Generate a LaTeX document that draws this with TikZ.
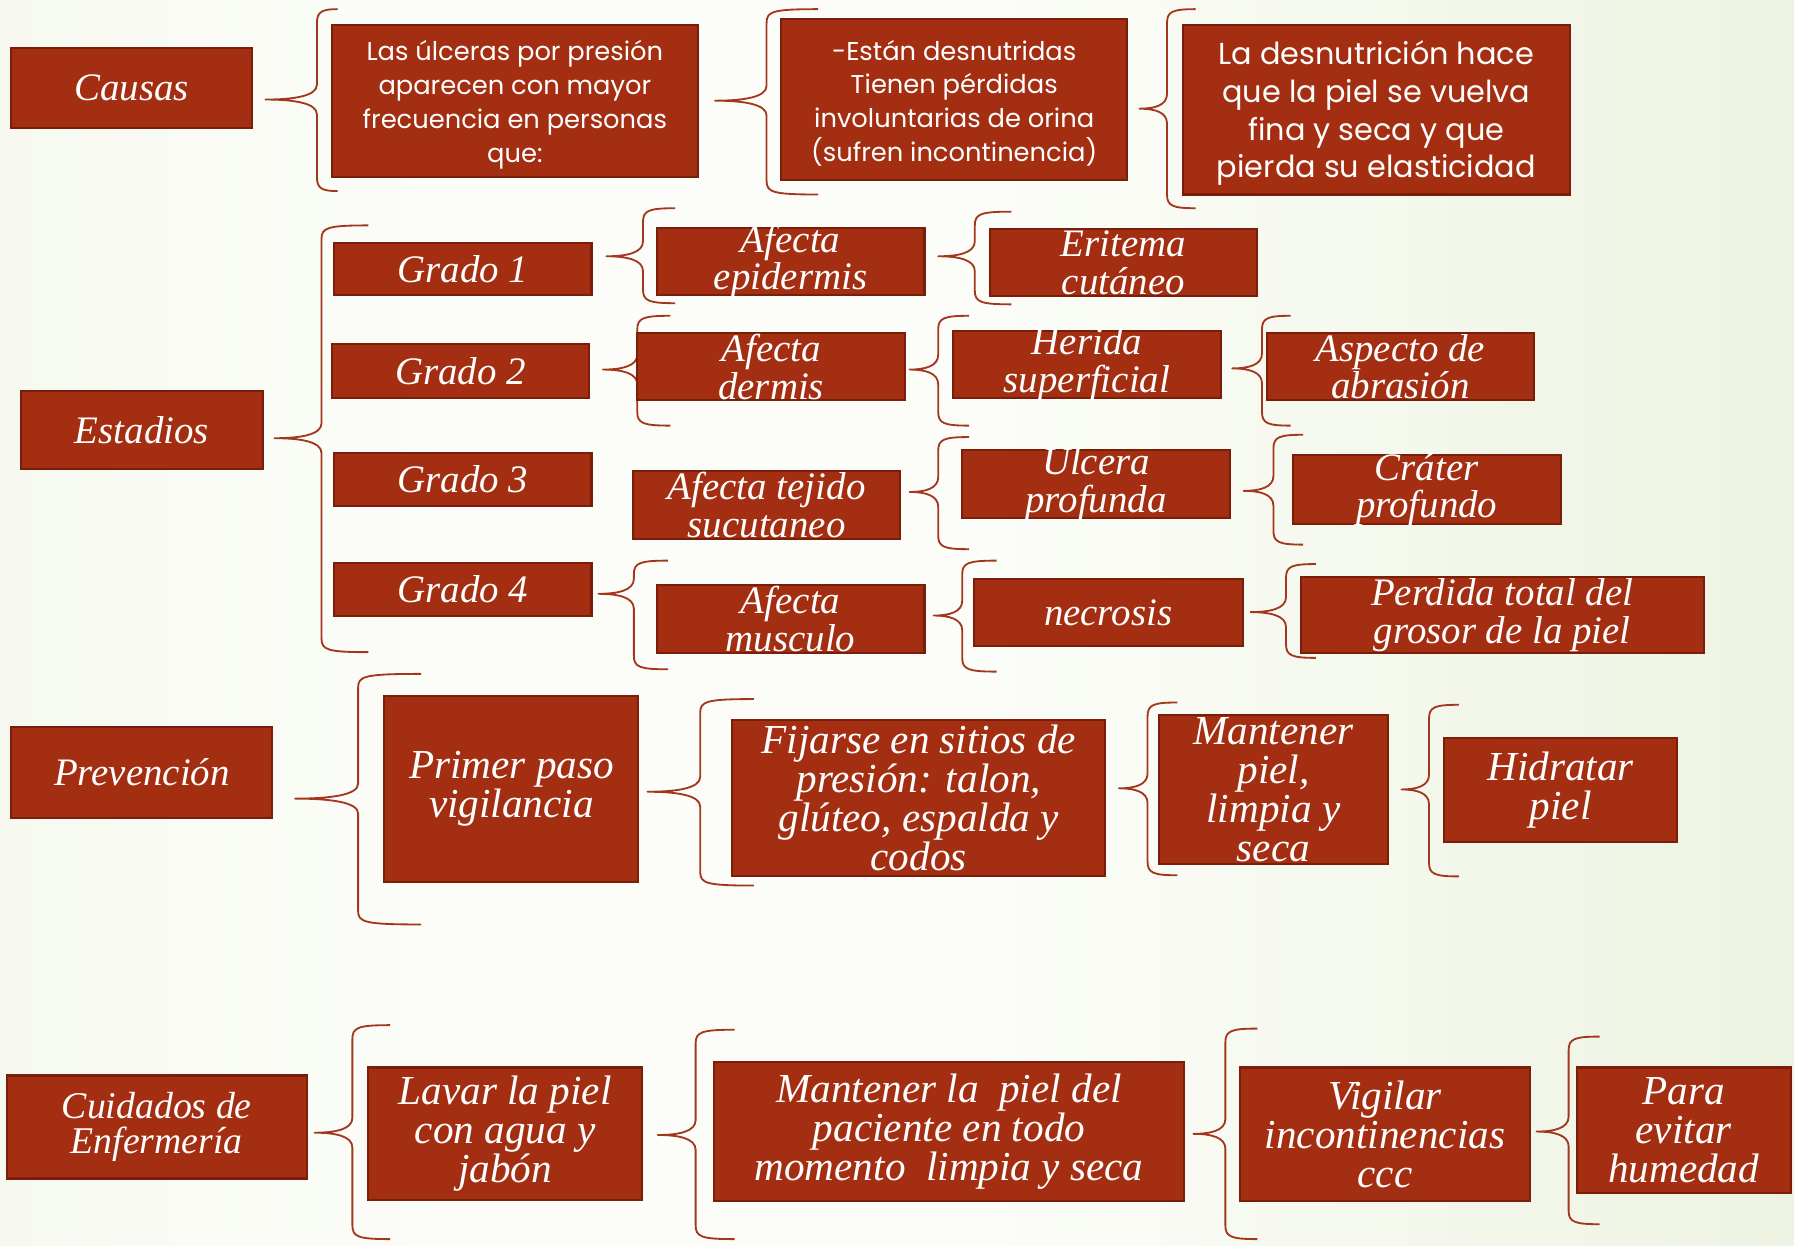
\documentclass[tikz,border=0pt]{standalone}
\usepackage{fontspec}
\setmainfont{Liberation Serif}
\newfontfamily\gothic{Poppins}
\definecolor{boxred}{RGB}{164,46,17}
\definecolor{boxdark}{RGB}{122,30,10}
\definecolor{bracecol}{RGB}{163,55,30}
\definecolor{bgL}{RGB}{236,242,224}
\definecolor{bgM}{RGB}{252,253,249}
\definecolor{bgR}{RGB}{221,232,200}
\pgfdeclarehorizontalshading{bgsh}{100bp}{color(0bp)=(bgL); color(38bp)=(bgM); color(52bp)=(bgM); color(100bp)=(bgR)}
\newcommand\calA{\fontsize{34}{33}\selectfont\itshape}
\newcommand\calB{\fontsize{36}{34}\selectfont\itshape}
\newcommand\calC{\fontsize{33}{30}\selectfont\itshape}
\newcommand\gotA{\gothic\fontsize{22.5}{29.5}\selectfont}
\newcommand\gotB{\gothic\fontsize{26.5}{33}\selectfont}
\tikzset{
  box/.style={draw=boxdark, line width=1.8pt, fill=boxred, rectangle, inner sep=0pt},
  txt/.style={text=white, align=center, inner sep=0pt},
  bracestyle/.style={draw=bracecol, line width=1.6pt, line join=round}
}
% name, x, y, width, height, font, text
\newcommand{\bx}[7]{%
  \node[box, minimum width=#4pt, minimum height=#5pt] (#1) at (#2,#3) {};
  \node[txt, font=#6] (#1-t) at (#1.center) {#7};}
% sans-serif variant, text set a little lower
\newcommand{\bxs}[7]{%
  \node[box, minimum width=#4pt, minimum height=#5pt] (#1) at (#2,#3) {};
  \node[txt, font=#6] (#1-t) at ([yshift=-3pt]#1.center) {#7};}
% tipX, tipY, vertical x, top, bottom, hook x
\newcommand{\cbrace}[6]{%
  \draw[bracestyle] (#6,#4) .. controls (#3+5,#4) and (#3,#4+2) .. (#3,#4+12)
    -- (#3,#2-13) .. controls (#3,#2-3) and ({#3-0.45*(#3-#1)},#2) .. (#1,#2)
    .. controls ({#3-0.45*(#3-#1)},#2) and (#3,#2+3) .. (#3,#2+13)
    -- (#3,#5-12) .. controls (#3,#5-2) and (#3+5,#5) .. (#6,#5);}
\begin{document}
\begin{tikzpicture}[x=1pt,y=-1pt]
\useasboundingbox (0,0) rectangle (1568,1089);
\shade[shading=bgsh] (0,0) rectangle (1568,1089);

% braces
\cbrace{232}{87}{277}{8}{167}{295}
\cbrace{625}{88}{670}{8}{170}{715}
\cbrace{996}{95}{1020}{8}{182}{1045}
\cbrace{240}{383}{281}{197}{570}{322}
\cbrace{530}{224}{562}{182}{265}{590}
\cbrace{820}{224}{852}{185}{266}{884}
\cbrace{527}{323}{557}{276}{372}{586}
\cbrace{795}{323}{820}{276}{372}{847}
\cbrace{1077}{322}{1103}{276}{372}{1128}
\cbrace{795}{430}{820}{382}{480}{847}
\cbrace{1087}{429}{1113}{380}{476}{1139}
\cbrace{523}{519}{554}{490}{585}{584}
\cbrace{816}{538}{841}{490}{587}{871}
\cbrace{1093}{535}{1124}{493}{575}{1150}
\cbrace{258}{698}{313}{589}{808}{368}
\cbrace{566}{692}{612}{611}{774}{659}
\cbrace{978}{689}{1003}{614}{765}{1029}
\cbrace{1225}{690}{1249}{616}{766}{1275}
\cbrace{275}{990}{308}{896}{1083}{341}
\cbrace{575}{992}{608}{900}{1083}{642}
\cbrace{1043}{991}{1071}{899}{1083}{1099}
\cbrace{1343}{989}{1371}{906}{1070}{1398}

% boxes
\bx{causas}{115}{77}{210}{70}{\calA}{Causas}
\bxs{ulc}{450}{88.5}{320}{133}{\gotA}{Las úlceras por presión\\aparecen con mayor\\frecuencia en personas\\que:}
\bxs{estan}{834}{87}{302}{140}{\gotA}{-Están desnutridas\\Tienen pérdidas\\involuntarias de orina\\(sufren incontinencia)}
\bxs{desn}{1203}{96}{338}{148}{\gotB}{La desnutrición hace\\que la piel se vuelva\\fina y seca y que\\pierda su elasticidad}

\bx{estadios}{124}{376}{212}{68}{\calA}{Estadios}
\bx{g1}{404.5}{235}{225}{46}{\calA}{Grado 1}
\bx{g2}{402.5}{324.5}{225}{47}{\calA}{Grado 2}
\bx{g3}{404.5}{419}{225}{46}{\calA}{Grado 3}
\bx{g4}{404.5}{515}{225}{46}{\calA}{Grado 4}
\bx{epi}{691}{228.5}{234}{59}{\calA}{Afecta\\epidermis}
\bx{eri}{982}{229.5}{234}{59}{\calA}{Eritema\\cutáneo}
\bx{derm}{674}{320.5}{234}{59}{\calA}{Afecta\\dermis}
\bx{herida}{950}{318.5}{234}{59}{\calA}{Herida\\superficial}
\bx{aspecto}{1224}{320.5}{234}{59}{\calA}{Aspecto de\\abrasión}
\bx{tejido}{670}{441.5}{234}{59}{\calA}{Afecta tejido\\sucutaneo}
\bx{ulcera}{958}{423}{234}{60}{\calA}{Ulcera\\profunda}
\bx{crater}{1247}{428}{234}{60}{\calA}{Cráter\\profundo}
\bx{musculo}{691}{541}{234}{60}{\calA}{Afecta\\musculo}
\bx{necrosis}{968.5}{535.5}{235}{59}{\calA}{necrosis}
\bx{perdida}{1313}{537.5}{352}{67}{\calA}{Perdida total del\\grosor de la piel}

\bx{prev}{124}{675}{228}{80}{\calA}{Prevención}
\bx{primer}{447}{689.5}{222}{163}{\calB}{Primer paso\\vigilancia}
\bx{fijarse}{803}{697.5}{326}{137}{\calB}{Fijarse en sitios de\\presión: talon,\\glúteo, espalda y\\codos}
\bx{mantener}{1113}{690}{200}{130}{\calB}{Mantener\\piel,\\limpia y\\seca}
\bx{hidratar}{1364}{690.5}{204}{91}{\calB}{Hidratar\\piel}

\bx{cuidados}{137}{985}{262}{90}{\calC}{Cuidados de\\Enfermería}
\bx{lavar}{441.5}{991}{239}{116}{\calB}{Lavar la piel\\con agua y\\jabón}
\bx{mlimpia}{829.5}{989}{411}{122}{\calB}{Mantener la \ piel del\\paciente en todo\\momento \ limpia y seca}
\bx{vigilar}{1210.5}{991.5}{253}{117}{\calB}{Vigilar\\incontinencias\\ccc}
\bx{para}{1471.5}{988}{187}{110}{\calB}{Para\\evitar\\humedad}
\end{tikzpicture}
\end{document}
